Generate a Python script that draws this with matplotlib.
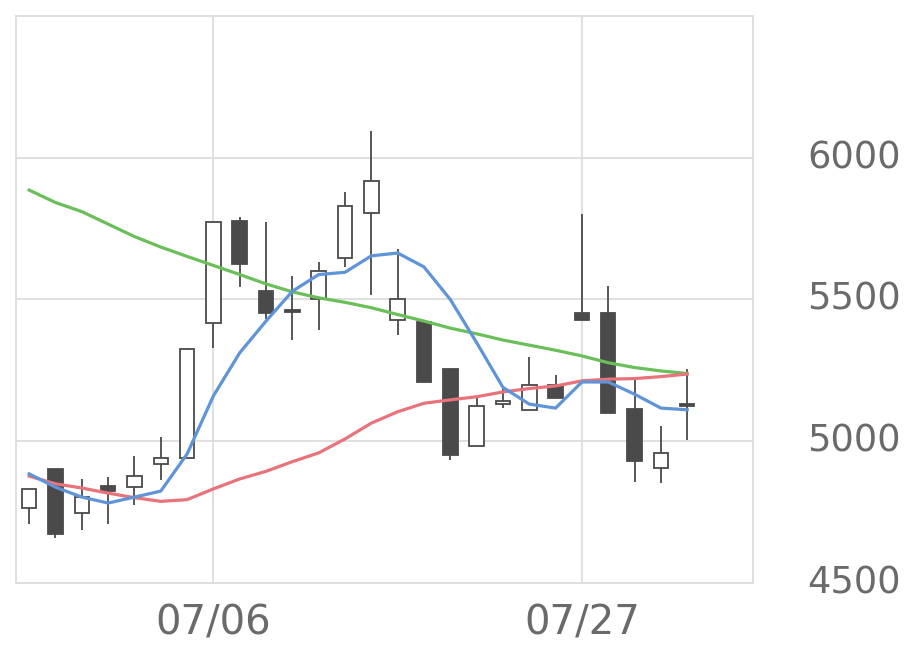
import matplotlib
matplotlib.use("Agg")
from matplotlib import pyplot as plt
from matplotlib.patches import Rectangle
from matplotlib.transforms import ScaledTranslation

# daily candles, 2018-06-27 .. 2018-08-02
dates = ["06/27", "06/28", "06/29", "07/02", "07/03", "07/04", "07/05",
         "07/06", "07/09", "07/10", "07/11", "07/12", "07/13", "07/17",
         "07/18", "07/19", "07/20", "07/23", "07/24", "07/25", "07/26",
         "07/27", "07/30", "07/31", "08/01", "08/02"]
opens = [4764, 4901, 4747, 4842, 4840, 4918, 4941, 5418, 5777, 5530, 5462,
         5500, 5646, 5804, 5428, 5420, 5254, 4982, 5130, 5111, 5199, 5453,
         5453, 5113, 4906, 5131]
highs = [4830, 4901, 4867, 4873, 4949, 5014, 5329, 5775, 5790, 5772, 5584,
         5631, 5878, 6095, 5678, 5420, 5254, 5154, 5184, 5297, 5232, 5802,
         5549, 5225, 5055, 5256]
lows = [4709, 4657, 4686, 4709, 4774, 4862, 4941, 5328, 5544, 5430, 5357,
        5392, 5615, 5515, 5375, 5209, 4934, 4982, 5116, 5111, 5152, 5428,
        5099, 4856, 4852, 5004]
closes = [4830, 4674, 4802, 4823, 4877, 4941, 5324, 5775, 5626, 5452, 5455,
          5599, 5829, 5918, 5500, 5209, 4952, 5124, 5141, 5199, 5152, 5428,
          5099, 4929, 4959, 5123]

ma_short = [4885, 4838, 4803, 4782, 4803, 4824, 4955, 5160, 5312, 5424, 5529,
            5588, 5596, 5654, 5664, 5615, 5500, 5348, 5190, 5131, 5117, 5209,
            5209, 5166, 5117, 5111]
ma_mid = [4877, 4850, 4835, 4817, 4801, 4788, 4794, 4832, 4867, 4894, 4928,
          4959, 5008, 5064, 5104, 5134, 5146, 5157, 5174, 5186, 5195, 5213,
          5219, 5221, 5228, 5237]
ma_long = [5886, 5842, 5810, 5766, 5722, 5685, 5652, 5620, 5588, 5555, 5527,
           5506, 5490, 5471, 5447, 5424, 5399, 5379, 5357, 5339, 5321, 5301,
           5277, 5260, 5248, 5239]

yticks = [4500, 5000, 5500, 6000]
xtick_labels = ["07/06", "07/27"]

dark = "#4a4a4a"
grid_c = "#dddddd"
text_c = "#6a6a6a"

fig = plt.figure(figsize=(9.2, 6.69), dpi=100)
ax = fig.add_axes([16 / 920, 1 - 583 / 669, (753 - 16) / 920, (583 - 16) / 669])

xs = list(range(len(dates)))
w = 0.55
for i in xs:
    o, h, l, c = opens[i], highs[i], lows[i], closes[i]
    ax.plot([i, i], [l, h], color=dark, lw=1.3, zorder=3, solid_capstyle="butt")
    lo, hi = min(o, c), max(o, c)
    face = "white" if c >= o else dark
    ax.add_patch(Rectangle((i - w / 2, lo), w, max(hi - lo, 6), facecolor=face,
                           edgecolor=dark, lw=1.3, zorder=4))

ax.plot(xs, ma_long, color="#6abf5a", lw=2.3, zorder=5)
ax.plot(xs, ma_mid, color="#e8737b", lw=2.3, zorder=5)
ax.plot(xs, ma_short, color="#5f95d8", lw=2.3, zorder=5)

ax.set_xlim(-0.5, 27.5)
ax.set_ylim(4500, 6500)
ax.set_yticks(yticks)
ax.set_xticks([dates.index(d) for d in xtick_labels])
ax.set_xticklabels(xtick_labels)
ax.yaxis.tick_right()
ax.tick_params(axis="both", length=0, labelcolor=text_c)
ax.tick_params(axis="y", pad=39, labelsize=26.5)
ax.tick_params(axis="x", pad=15, labelsize=29)
# nudge y labels up a little
shift = ScaledTranslation(0, 4 / 100, fig.dpi_scale_trans)
for lab in ax.get_yticklabels():
    lab.set_transform(lab.get_transform() + shift)
ax.grid(True, color=grid_c, lw=1.3, zorder=0)
ax.set_axisbelow(True)
for s in ax.spines.values():
    s.set_color(grid_c)
    s.set_linewidth(1.3)

fig.savefig("out.png", dpi=100)
